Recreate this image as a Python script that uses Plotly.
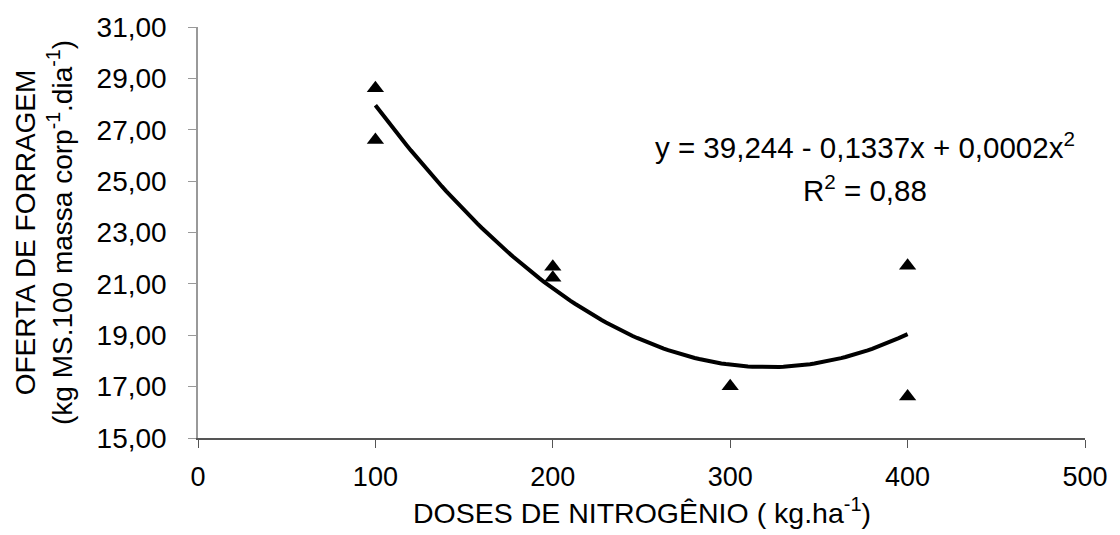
import numpy as np
import plotly.graph_objects as go

doses = [100, 100, 200, 200, 300, 400, 400]
oferta = [28.62, 26.60, 21.67, 21.24, 17.01, 21.71, 16.62]

# quadratic trend curve as drawn (intercept, linear, quadratic)
trend_coef = [39.244, -0.1337, 0.000208]
trend_x = [100, 400]

x_ticks = [0, 100, 200, 300, 400, 500]
y_ticks = [15, 17, 19, 21, 23, 25, 27, 29, 31]
y_labels = ["15,00", "17,00", "19,00", "21,00", "23,00", "25,00", "27,00", "29,00", "31,00"]

xf = np.linspace(trend_x[0], trend_x[1], 121)
yf = trend_coef[0] + trend_coef[1] * xf + trend_coef[2] * xf ** 2

FONT = "Liberation Sans, Arial, sans-serif"

fig = go.Figure()
fig.add_trace(go.Scatter(x=xf, y=yf, mode="lines",
                         line=dict(color="black", width=4), hoverinfo="skip"))
fig.add_trace(go.Scatter(x=doses, y=oferta, mode="markers",
                         marker=dict(symbol="triangle-up", size=15, color="black")))

fig.add_annotation(x=0.7525, y=0.712, xref="paper", yref="paper",
                   text="y = 39,244 - 0,1337x + 0,0002x<sup>2</sup>",
                   showarrow=False, font=dict(family=FONT, size=29.5, color="black"),
                   xanchor="center", yanchor="middle")
fig.add_annotation(x=0.7525, y=0.608, xref="paper", yref="paper",
                   text="R<sup>2</sup> = 0,88",
                   showarrow=False, font=dict(family=FONT, size=29.5, color="black"),
                   xanchor="center", yanchor="middle")
# x-axis title
fig.add_annotation(x=0.5, y=-0.178, xref="paper", yref="paper",
                   text="DOSES DE NITROGÊNIO ( kg.ha<sup>-1</sup>)",
                   showarrow=False, font=dict(family=FONT, size=28.5, color="black"),
                   xanchor="center", yanchor="middle")

fig.update_layout(
    width=1120, height=535,
    margin=dict(l=198, r=29, t=26, b=97),
    plot_bgcolor="white", paper_bgcolor="white",
    showlegend=False,
    font=dict(family=FONT, size=28, color="black"),
    xaxis=dict(range=[0, 500], tickvals=x_ticks, ticktext=[str(v) for v in x_ticks],
               showgrid=False, zeroline=False, showline=True, linecolor="#555555", linewidth=1.5,
               ticks="outside", ticklen=8, tickcolor="#555555", ticklabelstandoff=6,
               tickfont=dict(family=FONT, size=27)),
    yaxis=dict(range=[15, 31], tickvals=y_ticks, ticktext=y_labels,
               showgrid=False, zeroline=False, showline=True, linecolor="#999999", linewidth=1.5,
               ticks="outside", ticklen=8, tickcolor="#999999", ticklabelstandoff=16,
               tickfont=dict(family=FONT, size=28),
               title=dict(text="OFERTA DE FORRAGEM<br>(kg MS.100 massa corp<sup>-1</sup>.dia<sup>-1</sup>)",
                          standoff=16, font=dict(family=FONT, size=28))),
)

fig.write_html("out.html")
